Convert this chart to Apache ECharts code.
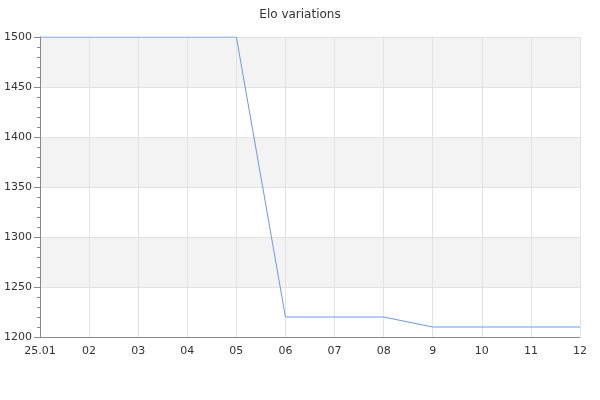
<!DOCTYPE html>
<html><head><meta charset="utf-8">
<script src="https://cdn.jsdelivr.net/npm/echarts@6/dist/echarts.min.js"></script>
<style>html,body{margin:0;padding:0;background:#fff}#c{width:600px;height:400px}</style>
</head><body><div id="c"></div>
<script>
const title = 'Elo variations';
const categories = ['25.01','02','03','04','05','06','07','08','9','10','11','12'];
const eloValues = [1500,1500,1500,1500,1500,1220,1220,1220,1210,1210,1210,1210];
const chart = echarts.init(document.getElementById('c'), null, {renderer:'canvas'});
chart.setOption({
  animation:false,
  textStyle:{fontFamily:'DejaVu Sans'},
  title:{text:title,left:'center',top:4,textStyle:{fontSize:12,fontWeight:'normal',color:'#333',fontFamily:'DejaVu Sans'}},
  grid:{left:40,right:20,top:37,bottom:63},
  xAxis:{type:'category',data:categories,boundaryGap:false,
    axisLine:{lineStyle:{color:'#888'}},axisTick:{show:false},
    axisLabel:{color:'#333',fontSize:11,margin:9,fontFamily:'DejaVu Sans'},
    splitLine:{show:true,lineStyle:{color:'#e3e3e3'}}},
  yAxis:{type:'value',min:1200,max:1500,interval:50,
    axisLine:{show:true,lineStyle:{color:'#888'}},
    axisTick:{show:true,length:6,lineStyle:{color:'#888'}},
    minorTick:{show:true,splitNumber:5,length:3,lineStyle:{color:'#888'}},
    axisLabel:{color:'#333',fontSize:11,margin:8,fontFamily:'DejaVu Sans',formatter:v=>String(v)},
    splitLine:{show:true,lineStyle:{color:'#e3e3e3'}},
    splitArea:{show:true,areaStyle:{color:['#ffffff','#f3f3f3']}}},
  series:[{type:'line',data:eloValues,symbol:'none',lineStyle:{width:1,color:'#6a98e8'}}]
});
</script></body></html>
